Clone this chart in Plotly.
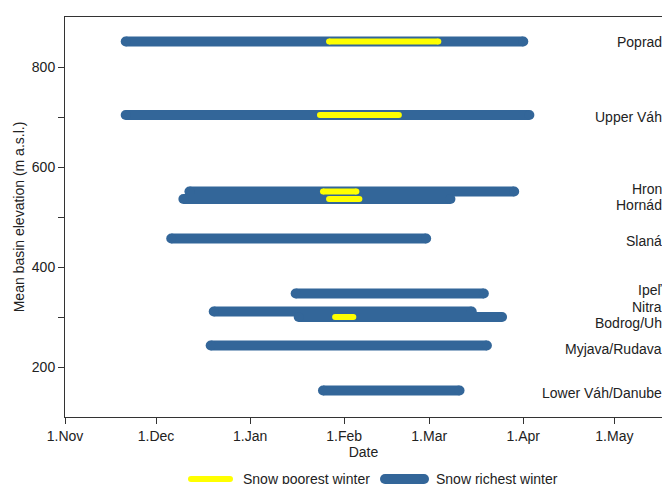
import plotly.graph_objects as go

# ---------------- data ----------------
basins = ["Poprad", "Upper Váh", "Hron", "Hornád", "Slaná", "Ipeľ", "Nitra",
          "Bodrog/Uh", "Myjava/Rudava", "Lower Váh/Danube"]
elevation = [851, 704, 551, 536, 457, 347, 311, 300, 243, 153]
rich_start = ["2018-11-21", "2018-11-21", "2018-12-12", "2018-12-10", "2018-12-06",
              "2019-01-16", "2018-12-20", "2019-01-17", "2018-12-19", "2019-01-25"]
rich_end = ["2019-04-01", "2019-04-03", "2019-03-29", "2019-03-08", "2019-02-28",
            "2019-03-19", "2019-03-15", "2019-03-25", "2019-03-20", "2019-03-11"]

poor_basins = ["Poprad", "Upper Váh", "Hron", "Hornád", "Bodrog/Uh"]
poor_start = ["2019-01-27", "2019-01-24", "2019-01-25", "2019-01-27", "2019-01-29"]
poor_end = ["2019-03-04", "2019-02-19", "2019-02-05", "2019-02-06", "2019-02-04"]

x_tickvals = ["2018-11-01", "2018-12-01", "2019-01-01", "2019-02-01",
              "2019-03-01", "2019-04-01", "2019-05-01"]
x_ticktext = ["1.Nov", "1.Dec", "1.Jan", "1.Feb", "1.Mar", "1.Apr", "1.May"]
y_tickvals = [200, 300, 400, 500, 600, 700, 800]
y_ticktext = ["200", "", "400", "", "600", "", "800"]

series_names = ["Snow poorest winter", "Snow richest winter"]

# ---------------- style ----------------
BLUE = "#336699"
YELLOW = "#ffff00"
FONT = "Arial, Liberation Sans, sans-serif"
TXT = "#222222"
AX = "#333333"
label_shift = [0, -2, 3, -6, -2, 4, 5, -6, -3, -2]

W, H = 662, 484
ML, MT = 65, 17
plot_bottom_px = 417
main_dom_lo = (H - plot_bottom_px) / (H - MT)

fig = go.Figure()

# snow richest winter bars (blue)
for b, e, s, t in zip(basins, elevation, rich_start, rich_end):
    fig.add_trace(go.Scatter(
        x=[s, t], y=[e, e], mode="lines+markers",
        line=dict(color=BLUE, width=10),
        marker=dict(color=BLUE, size=10, line=dict(width=0)),
        showlegend=False, hoverinfo="skip", xaxis="x", yaxis="y"))

# snow poorest winter bars (yellow)
elev_of = dict(zip(basins, elevation))
for b, s, t in zip(poor_basins, poor_start, poor_end):
    e = elev_of[b]
    fig.add_trace(go.Scatter(
        x=[s, t], y=[e, e], mode="lines+markers",
        line=dict(color=YELLOW, width=6),
        marker=dict(color=YELLOW, size=6, line=dict(width=0)),
        showlegend=False, hoverinfo="skip", xaxis="x", yaxis="y"))

# basin labels
for b, e, sh in zip(basins, elevation, label_shift):
    fig.add_annotation(x=1, xref="paper", y=e, yref="y", text=b,
                       xanchor="right", yanchor="middle", showarrow=False,
                       xshift=2, yshift=sh,
                       font=dict(family=FONT, size=14, color=TXT))

# manual legend on a hidden pixel-unit axis pair
leg_x = [[191, 230], [385, 424]]
leg_txt_x = [241, 434]
leg_col = [YELLOW, BLUE]
leg_w = [6, 10]
for name, xs, tx, c, w in zip(series_names, leg_x, leg_txt_x, leg_col, leg_w):
    fig.add_trace(go.Scatter(
        x=xs, y=[0, 0], mode="lines+markers",
        line=dict(color=c, width=w), marker=dict(color=c, size=w, line=dict(width=0)),
        showlegend=False, hoverinfo="skip", xaxis="x2", yaxis="y2", cliponaxis=False))
    fig.add_annotation(x=tx, xref="x2", y=0, yref="y2", text=name,
                       xanchor="left", yanchor="middle", showarrow=False,
                       font=dict(family=FONT, size=14, color=TXT))

fig.update_layout(
    width=W, height=H,
    margin=dict(l=ML, r=0, t=MT, b=0, pad=0),
    paper_bgcolor="white", plot_bgcolor="white",
    showlegend=False,
    font=dict(family=FONT, size=14, color=TXT),
    xaxis=dict(
        type="date", range=["2018-11-01", "2019-05-16 16:48"],
        domain=[0, 1], anchor="y",
        tickvals=x_tickvals, ticktext=x_ticktext,
        ticks="outside", ticklen=6, tickwidth=1, tickcolor=AX,
        showline=True, linecolor=AX, linewidth=1, mirror=True,
        showgrid=False, zeroline=False,
        tickfont=dict(family=FONT, size=14, color=TXT),
        title=dict(text="Date", standoff=2, font=dict(family=FONT, size=14, color=TXT)),
    ),
    yaxis=dict(
        range=[100, 900], domain=[main_dom_lo, 1], anchor="x",
        tickvals=y_tickvals, ticktext=y_ticktext,
        ticks="outside", ticklen=6, tickwidth=1, tickcolor=AX,
        showline=True, linecolor=AX, linewidth=1,
        showgrid=False, zeroline=False,
        tickfont=dict(family=FONT, size=14, color=TXT),
        title=dict(text="Mean basin elevation (m a.s.l.)", standoff=3,
                   font=dict(family=FONT, size=14, color=TXT)),
    ),
    xaxis2=dict(range=[ML, W], domain=[0, 1], anchor="y2", visible=False, fixedrange=True),
    yaxis2=dict(range=[-5, 41.7], domain=[0, 46.7 / (H - MT)], anchor="x2",
                visible=False, fixedrange=True),
)

fig.write_html("out.html", config={"displayModeBar": False},
               post_script="document.body.style.margin='0';document.body.style.overflow='hidden';")
